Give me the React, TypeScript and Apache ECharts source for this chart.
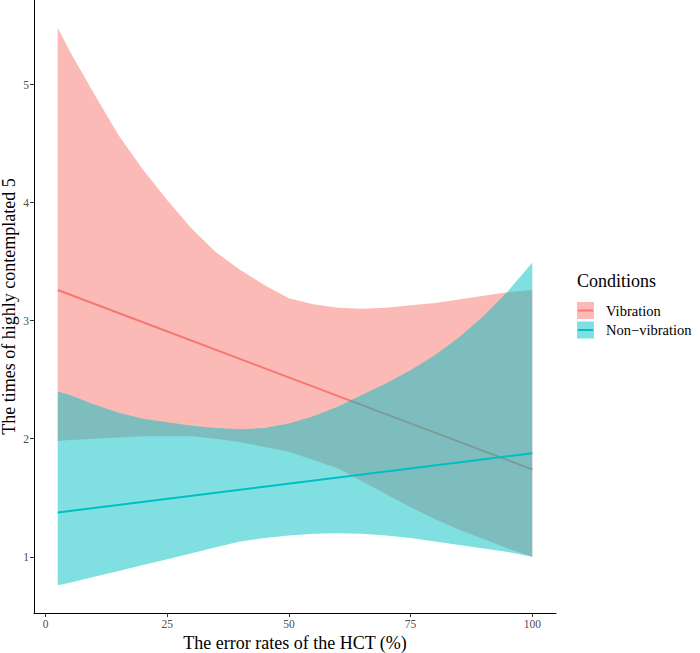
import { useEffect, useRef } from "react";
import * as echarts from "echarts";

// x positions (error rate of the HCT, %)
const xs = [2.5, 5, 10, 15, 20, 25, 30, 35, 40, 45, 50, 55, 60, 65, 70, 75, 80, 85, 90, 95, 100];

// Vibration: confidence band
const vibUpper = [5.48, 5.28, 4.92, 4.57, 4.28, 4.02, 3.78, 3.58, 3.43, 3.3, 3.19, 3.14, 3.11, 3.1, 3.11, 3.13, 3.15, 3.18, 3.21, 3.24, 3.26];
const vibLower = [1.98, 1.99, 2.0, 2.01, 2.02, 2.02, 2.02, 2.0, 1.97, 1.93, 1.89, 1.82, 1.75, 1.64, 1.53, 1.42, 1.32, 1.23, 1.15, 1.07, 1.0];

// Non-vibration: confidence band
const nvUpper = [2.4, 2.37, 2.29, 2.22, 2.17, 2.14, 2.11, 2.09, 2.08, 2.09, 2.13, 2.19, 2.27, 2.37, 2.47, 2.58, 2.71, 2.86, 3.04, 3.25, 3.49];
const nvLower = [0.76, 0.78, 0.83, 0.88, 0.93, 0.98, 1.03, 1.08, 1.13, 1.16, 1.18, 1.195, 1.2, 1.195, 1.18, 1.16, 1.13, 1.1, 1.07, 1.04, 1.0];

// fitted lines
const fitX = [2.5, 100];
const vibFit = [3.26, 1.74];
const nvFit = [1.375, 1.877];

const xTicks = [0, 25, 50, 75, 100];
const yTicks = [1, 2, 3, 4, 5];

const legendNames = ["Vibration", "Non\u2212vibration"];
const colors = ["#F8766D", "#00BFC4"];

const FONT = "Liberation Serif";

export default function App() {
  const ref = useRef<HTMLDivElement>(null);

  useEffect(() => {
    if (!ref.current) return;
    const chart = echarts.init(ref.current, null, { renderer: "svg" });

    const band = (name: string, lower: number[], upper: number[], color: string, z: number) => ({
      name: name + "-band",
      type: "custom",
      z,
      data: xs.map((x, i) => [x, lower[i], upper[i]]),
      encode: { x: 0, y: [1, 2] },
      silent: true,
      clip: true,
      renderItem: (params: any, api: any) => {
        if (params.dataIndex !== 0) return null;
        const top = xs.map((x, i) => api.coord([x, upper[i]]));
        const bottom = xs.map((x, i) => api.coord([x, lower[i]])).reverse();
        return {
          type: "polygon",
          shape: { points: top.concat(bottom) },
          style: { fill: color, opacity: 0.5 },
        };
      },
    });

    const fitLine = (name: string, ys: number[], color: string, z: number) => ({
      name,
      type: "line",
      z,
      data: fitX.map((x, i) => [x, ys[i]]),
      symbol: "none",
      lineStyle: { color, width: 2 },
      silent: true,
    });

    const keyY = [302, 321.5];

    chart.setOption({
      animation: false,
      textStyle: { fontFamily: FONT },
      grid: { left: 34, right: 144, top: 0, bottom: 40, containLabel: false, outerBoundsMode: "none" },
      xAxis: {
        type: "value",
        min: -2.375,
        max: 104.875,
        name: "The error rates of the HCT (%)",
        nameLocation: "middle",
        nameGap: 21,
        nameMoveOverlap: false,
        nameTextStyle: { fontFamily: FONT, fontSize: 18, color: "#000" },
        axisLine: { onZero: false, lineStyle: { color: "#000", width: 1 } },
        axisTick: { show: true, length: 4, customValues: xTicks, lineStyle: { color: "#333" } },
        axisLabel: { customValues: xTicks, color: "#4D4D4D", fontSize: 11.5, fontFamily: FONT, margin: 5 },
        splitLine: { show: false },
      },
      yAxis: {
        type: "value",
        min: 0.524,
        max: 5.716,
        name: "The times of highly contemplated 5",
        nameLocation: "middle",
        nameGap: 16,
        nameMoveOverlap: false,
        nameTextStyle: { fontFamily: FONT, fontSize: 18, color: "#000" },
        axisLine: { show: true, onZero: false, lineStyle: { color: "#000", width: 1 } },
        axisTick: { show: true, length: 4, customValues: yTicks, lineStyle: { color: "#333" } },
        axisLabel: { customValues: yTicks, color: "#4D4D4D", fontSize: 11.5, fontFamily: FONT, margin: 5 },
        splitLine: { show: false },
      },
      series: [
        band("vib", vibLower, vibUpper, colors[0], 1),
        fitLine(legendNames[0], vibFit, colors[0], 2),
        band("nv", nvLower, nvUpper, colors[1], 3),
        fitLine(legendNames[1], nvFit, colors[1], 4),
      ],
      graphic: [
        {
          type: "text",
          left: 577,
          top: 272,
          style: { text: "Conditions", fontFamily: FONT, fontSize: 18, fill: "#000" },
        },
        ...legendNames.flatMap((name, i) => [
          {
            type: "rect",
            shape: { x: 577, y: keyY[i], width: 17, height: 17 },
            style: { fill: colors[i], opacity: 0.5 },
          },
          {
            type: "line",
            shape: { x1: 578, y1: keyY[i] + 8.5, x2: 593, y2: keyY[i] + 8.5 },
            style: { stroke: colors[i], lineWidth: 2 },
          },
          {
            type: "text",
            left: 606,
            top: keyY[i] + 1,
            style: { text: name, fontFamily: FONT, fontSize: 14.5, fill: "#000" },
          },
        ]),
      ],
    });

    return () => chart.dispose();
  }, []);

  return (
    <div
      ref={ref}
      style={{ position: "fixed", left: 0, top: 0, width: 700, height: 653, background: "#fff" }}
    />
  );
}
